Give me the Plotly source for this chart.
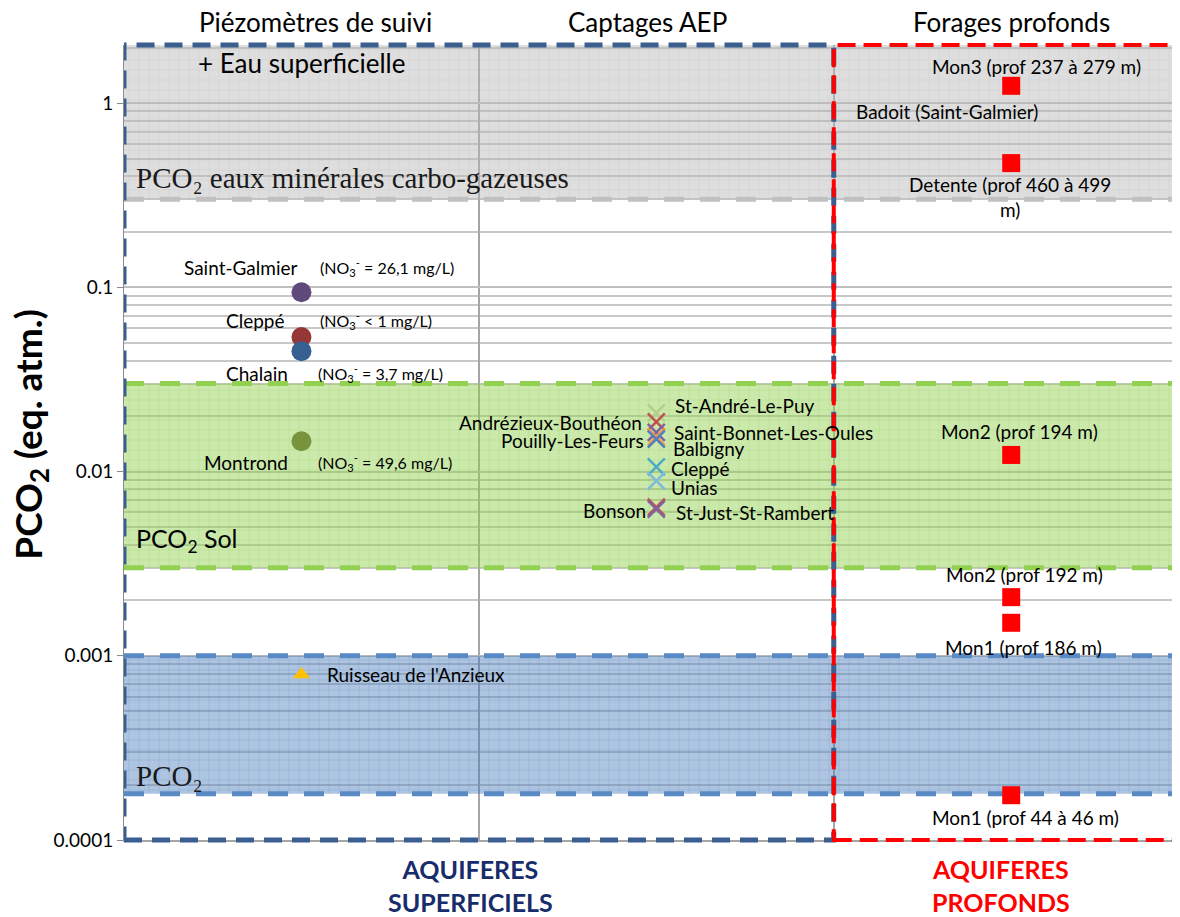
import numpy as np
import plotly.graph_objects as go

# Categories (x positions 1, 2, 3)
groups = ['Piézomètres de suivi', 'Captages AEP', 'Forages profonds']

# Piezometers + surface water (x = 1)
piezo_names = ['Saint-Galmier', 'Cleppé', 'Chalain', 'Montrond']
piezo_pco2 = [0.094, 0.0537, 0.045, 0.0146]
piezo_no3 = ['= 26,1 mg/L', '< 1 mg/L', '= 3,7 mg/L', '= 49,6 mg/L']
piezo_colors = ['#604a7b', '#953735', '#376092', '#77933c']
surface_name = "Ruisseau de l'Anzieux"
surface_pco2 = 0.00079

# AEP wells (x = 2)
aep_names = ['St-André-Le-Puy', 'Andrézieux-Bouthéon', 'Saint-Bonnet-Les-Oules',
             'Pouilly-Les-Feurs', 'Balbigny', 'Cleppé', 'Unias', 'Bonson',
             'St-Just-St-Rambert']
aep_pco2 = [0.0208, 0.0186, 0.0163, 0.0154, 0.0150, 0.0106, 0.0089, 0.00640, 0.00625]
aep_colors = ['#b3cf8a', '#c0504d', '#8064a2', '#f79646', '#4f81bd',
              '#4bacc6', '#7fb9dd', '#c0504d', '#8064a2']

# Deep boreholes (x = 3)
deep_names = ['Mon3 (prof 237 à 279 m)', 'Detente (prof 460 à 499<br>m)',
              'Mon2 (prof 194 m)', 'Mon2 (prof 192 m)', 'Mon1 (prof 186 m)',
              'Mon1 (prof 44 à 46 m)']
deep_pco2 = [1.24, 0.472, 0.0123, 0.00208, 0.00151, 0.000175]
badoit_name = 'Badoit (Saint-Galmier)'
badoit_pco2 = 0.905

# Reference PCO2 bands
band_low = [0.3, 0.003, 0.000178]
band_high = [3.0, 0.03, 0.001]
band_bg = ['rgba(185,185,185,0.47)', 'rgba(146,208,80,0.48)', 'rgba(79,129,189,0.46)']
band_fg = ['rgba(165,165,165,0.45)', 'rgba(120,190,60,0.55)', 'rgba(70,120,190,0.6)']
band_line = ['#c0c0c0', '#92d050', '#5a8ac6']

X0, X1 = 0.5, 3.47
FONT = 'Lato'

fig = go.Figure()

# bands with patterned fill
for lo, hi, bg, fg in zip(band_low, band_high, band_bg, band_fg):
    fig.add_trace(go.Scatter(
        x=[X0, X1, X1, X0, X0], y=[lo, lo, hi, hi, lo], mode='lines',
        line=dict(width=0), fill='toself', fillcolor=bg,
        fillpattern=dict(shape='+', fgcolor=fg, bgcolor=bg, size=10, solidity=0.12),
        hoverinfo='skip', showlegend=False))

# band borders (dashed)
for i, (lo, hi, col) in enumerate(zip(band_low, band_high, band_line)):
    levels = [lo] if i == 0 else [lo, hi]
    for v in levels:
        fig.add_trace(go.Scatter(x=[X0, X1], y=[v, v], mode='lines',
                                 line=dict(color=col, width=5, dash='20px,16px'),
                                 hoverinfo='skip', showlegend=False))

# piezometers
fig.add_trace(go.Scatter(x=[1] * len(piezo_pco2), y=piezo_pco2, mode='markers',
                         marker=dict(size=20, color=piezo_colors), showlegend=False))
fig.add_trace(go.Scatter(x=[1], y=[surface_pco2], mode='markers',
                         marker=dict(size=15, symbol='triangle-up', color='#ffc000'),
                         showlegend=False))
# AEP
fig.add_trace(go.Scatter(x=[2] * len(aep_pco2), y=aep_pco2, mode='markers',
                         marker=dict(size=17, symbol='x-thin-open', color=aep_colors,
                                     line=dict(width=2.5, color=aep_colors)),
                         showlegend=False))
# deep
fig.add_trace(go.Scatter(x=[3] * len(deep_pco2), y=deep_pco2, mode='markers',
                         marker=dict(size=18, symbol='square', color='#ff0000'),
                         showlegend=False))

ann = []
lab = dict(family=FONT, size=19, color='#000000')
small = dict(family=FONT, size=16, color='#000000')

piezo_name_shift = [(-61, 25), (-46, 17), (-44, -22), (-55, -21)]
piezo_no3_shift = [(17, 25), (17, 17), (15, -22), (15, -21)]
for n, v, no3, (nx, ny), (qx, qy) in zip(piezo_names, piezo_pco2, piezo_no3,
                                         piezo_name_shift, piezo_no3_shift):
    ann.append(dict(x=1, y=np.log10(v), text=n, showarrow=False, font=lab,
                    xshift=nx, yshift=ny))
    ann.append(dict(x=1, y=np.log10(v), text='(NO<sub>3</sub><sup>-</sup> ' + no3 + ')',
                    showarrow=False, font=small, xanchor='left', xshift=qx, yshift=qy))
ann.append(dict(x=1, y=np.log10(surface_pco2), text=surface_name, showarrow=False,
                font=lab, xanchor='left', xshift=24))

aep_shift = [('left', 17, 7), ('right', -12, -1), ('left', 16, 0), ('right', -10, -4),
             ('left', 15, -9), ('left', 13, -2), ('left', 13, -7), ('right', -8, -3),
             ('left', 18, -3)]
for n, v, (anc, sx, sy) in zip(aep_names, aep_pco2, aep_shift):
    ann.append(dict(x=2, y=np.log10(v), text=n, showarrow=False, font=lab,
                    xanchor=anc, xshift=sx, yshift=sy))

deep_shift = [(25, 19), (-1, -34), (8, 23), (13, 23), (12, -25), (14, -22)]
for n, v, (sx, sy) in zip(deep_names, deep_pco2, deep_shift):
    ann.append(dict(x=3, y=np.log10(v), text=n, showarrow=False, font=lab,
                    xshift=sx, yshift=sy))
ann.append(dict(x=3, y=np.log10(badoit_pco2), text=badoit_name, showarrow=False,
                font=lab, xshift=-64))

# headers
head = dict(family=FONT, size=26, color='#000000')
for gx, g in zip([1.04, 1.975, 3.0], groups):
    ann.append(dict(x=gx, y=1.029, yref='paper', yanchor='middle', text=g,
                    showarrow=False, font=head))
ann.append(dict(x=1.0, y=0.977, yref='paper', yanchor='middle', text='+ Eau superficielle',
                showarrow=False, font=head))

# band labels
serif = dict(family='Liberation Serif', size=29, color='#1a1a1a')
ann.append(dict(x=X0, y=0.833, yref='paper', yanchor='middle', xanchor='left', xshift=10,
                text='PCO₂ eaux minérales carbo-gazeuses', showarrow=False, font=serif))
ann.append(dict(x=X0, y=0.377, yref='paper', yanchor='middle', xanchor='left', xshift=10,
                text='PCO<sub>2</sub> Sol', showarrow=False,
                font=dict(family=FONT, size=25, color='#000000')))
ann.append(dict(x=X0, y=0.081, yref='paper', yanchor='middle', xanchor='left', xshift=10,
                text='PCO₂', showarrow=False, font=serif))

# bottom labels
ann.append(dict(x=1.475, y=-0.057, yref='paper', yanchor='middle',
                text='<b>AQUIFERES<br>SUPERFICIELS</b>', showarrow=False,
                font=dict(family=FONT, size=25, color='#172c6b')))
ann.append(dict(x=2.972, y=-0.057, yref='paper', yanchor='middle',
                text='<b>AQUIFERES<br>PROFONDS</b>', showarrow=False,
                font=dict(family=FONT, size=25, color='#ff0000')))

# y title
ann.append(dict(x=-0.089, y=0.51, xref='paper', yref='paper', textangle=-90,
                xanchor='center', yanchor='middle',
                text='<b>PCO<sub>2</sub> (eq. atm.)</b>', showarrow=False,
                font=dict(family=FONT, size=37, color='#000000')))

# group boxes
shapes = [
    dict(type='rect', xref='x', yref='paper', x0=X0, x1=2.5, y0=0, y1=1,
         line=dict(color='#3a5f8f', width=5, dash='18px,10px'), layer='above'),
    dict(type='rect', xref='x', yref='paper', x0=2.5, x1=3.462, y0=0, y1=1,
         line=dict(color='#ff0000', width=4, dash='18px,8px'), layer='above'),
]

decades = [1e-4, 1e-3, 1e-2, 1e-1, 1]
minor_vals = [m * d for d in decades[:-1] for m in range(2, 10)] + [2.0]

# page body has an 8px margin, so the figure is shifted by 8px
fig.update_layout(
    width=1172, height=909,
    margin=dict(l=116, r=2, t=37, b=77),
    plot_bgcolor='white', paper_bgcolor='white',
    annotations=ann, shapes=shapes,
    xaxis=dict(range=[X0, X1], tickvals=[1.5, 2.5], showticklabels=False, ticks='',
               showgrid=True, gridcolor='#a6a6a6', gridwidth=1.5, zeroline=False,
               showline=True, linecolor='#a6a6a6', linewidth=2),
    yaxis=dict(type='log', range=[-4, 0.315], tickvals=decades,
               ticktext=['0.0001', '0.001', '0.01', '0.1', '1'],
               tickfont=dict(family=FONT, size=19, color='#000000'),
               ticks='outside', ticklen=6, tickcolor='#8c8c8c',
               showgrid=True, gridcolor='#bfbfbf', gridwidth=1.5,
               minor=dict(tickvals=minor_vals, showgrid=True, gridcolor='#c8c8c8',
                          gridwidth=1.5, ticks=''),
               showline=True, linecolor='#8c8c8c', zeroline=False),
)

fig.write_html("out.html")
